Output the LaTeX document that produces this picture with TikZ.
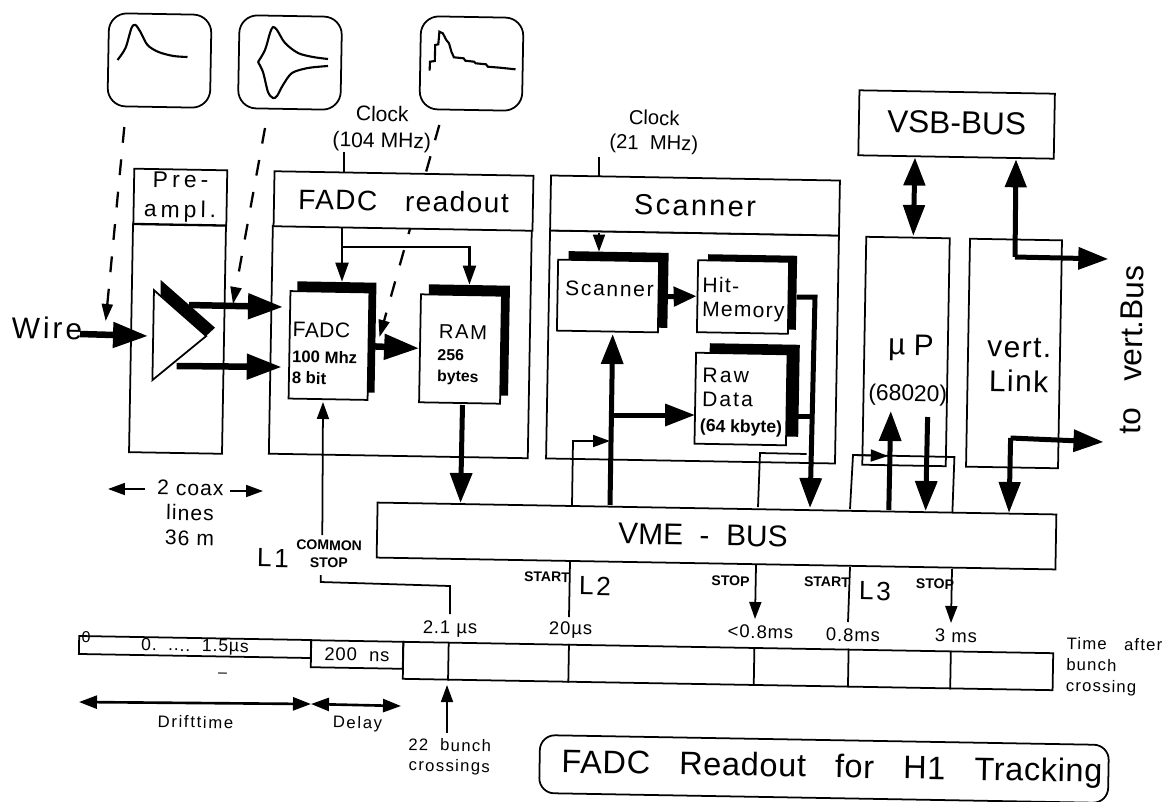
\documentclass[tikz,border=0pt]{standalone}
\usepackage{fontspec}
\setmainfont{Liberation Sans}
\usetikzlibrary{arrows.meta, calc, shapes.geometric}
\newcommand{\fs}[2]{\fontsize{#1}{#2}\selectfont}
\newcommand{\spaced}[1]{\addfontfeature{LetterSpace=#1}}

\begin{document}
\begin{tikzpicture}[
    x=0.02cm, y=-0.02cm,
    every node/.style={rotate=-1, inner sep=0pt, align=center},
    box/.style={draw, line width=1pt},
    head/.style={draw, line width=1pt, fill=white},
    chip/.style={draw, line width=1pt, fill=white},
    shade/.style={fill=black},
    screen/.style={draw, line width=1pt, rounded corners=0.36cm, minimum width=2.05cm, minimum height=1.86cm},
    trace/.style={line width=1.2pt},
    fat/.style={line width=0.13cm, -{Triangle[length=0.7cm,width=0.49cm]}},
    fatter/.style={line width=0.1cm, -{Triangle[length=0.6cm,width=0.43cm]}},
    fats/.style={line width=0.1cm, -{Triangle[length=0.46cm,width=0.38cm]}},
    fatb/.style={line width=0.1cm, {Triangle[length=0.56cm,width=0.42cm]}-{Triangle[length=0.62cm,width=0.42cm]}},
    med/.style={line width=1.2pt, -{Triangle[length=0.38cm,width=0.26cm]}},
    thin line/.style={line width=1pt},
    thin arrow/.style={line width=1pt, -{Triangle[length=0.34cm,width=0.24cm]}},
    dash line/.style={line width=1.3pt, dash pattern=on 9pt off 9.5pt, -{Triangle[length=0.34cm,width=0.22cm]}},
    span/.style={line width=1.5pt, {Triangle[length=0.36cm,width=0.26cm]}-{Triangle[length=0.36cm,width=0.26cm]}},
    small/.style={font=\fs{8}{10}\bfseries},
    time/.style={font=\fs{10.5}{13}\spaced{5}},
    note/.style={font=\fs{9.5}{12}\spaced{10}},
]
  \useasboundingbox (0,0) rectangle (1168,801);

  % signal shapes
  \node[screen] (scopea) at (159.5,60.5) {};
  \node[screen] (scopeb) at (290,62.5) {};
  \node[screen] (scopec) at (471.5,63.5) {};
  \begin{scope}[xshift=-0.03cm]
    \draw[trace] plot[smooth] coordinates {(119,60) (127,48) (133,28) (137,25) (142,32) (149,45) (160,52) (175,56) (189,57)};
  \end{scope}
  \begin{scope}[xshift=-0.04cm]
    \draw[trace] plot[smooth] coordinates {(260,62) (267,50) (272,33) (275,27) (279,30) (287,43) (300,53) (315,57) (330,59)};
    \draw[trace] plot[smooth] coordinates {(260,62) (265,72) (270,92) (275,98) (279,96) (285,85) (294,73) (310,68) (330,66)};
    \draw[trace] (431.6,70.7) -- (432,61.7) -- (436.8,61) -- (437.2,45) -- (440.3,44.3) -- (441.4,31.7) -- (444.8,33.3) -- (448.3,40) -- (451,43.3) -- (453.4,51.7) -- (455.9,57.3) -- (465.6,58.3) -- (467.3,60.7) -- (476,61.7) -- (477.7,63.3) -- (488,64.3) -- (489.8,66.7) -- (502,67.7) -- (517.5,69.3);
  \end{scope}

  % preamp
  \node[box] (prebody) at (177.5,339) [minimum width=1.86cm, minimum height=4.56cm] {};
  \node[head, font=\fs{13}{17}\spaced{18}] (prehead) at (180.3,197) [minimum width=1.86cm, minimum height=1.1cm] {Pre-\\ampl.};
  \fill (160.7,280) -- (215,327.7) -- (205,337) -- (160.7,295) -- cycle;
  \node[draw, fill=white, line width=1pt, isosceles triangle, isosceles triangle stretches, minimum width=1.8cm, minimum height=1.06cm] (amp) at (174,335.5) {};

  % FADC readout
  \node[box] (fadcbody) at (400.3,342) [minimum width=5.18cm, minimum height=4.56cm] {};
  \coordinate (scopecout) at (439.3,125);
  \coordinate (tdctip) at (379.5,337);
  \draw[dash line] (scopecout) -- (tdctip);
  \node[head, font=\fs{16}{19}\spaced{5}] (fadchead) at (403.5,201) [minimum width=5.18cm, minimum height=1.1cm] {FADC~~~readout};
  \node[shade] (fadcshade) at (336,337) [minimum width=1.58cm, minimum height=2.2cm] {};
  \node[chip] (fadc) at (329,345.5) [minimum width=1.58cm, minimum height=2.15cm] {};
  \node[shade] (ramshade) at (468.5,340) [minimum width=1.62cm, minimum height=2.2cm] {};
  \node[chip] (ram) at (460.5,349) [minimum width=1.62cm, minimum height=2.16cm] {};
  \node[anchor=west, align=left, font=\fs{9.5}{12}\bfseries] (fadctext) at (292,353) {{\fs{12}{14}\mdseries\spaced{2}FADC}\\[2.7pt]100 Mhz\\8 bit};
  \node[font=\fs{11.5}{14}\spaced{8}] (ramtext) at (463,332) {RAM};
  \node[anchor=west, align=left, font=\fs{9}{12}\bfseries] (ramsize) at (437,367) {256\\bytes};
  \node[font=\fs{12}{15}] (clocka) at (382,129) {Clock\\(104 MHz)};

  % scanner
  \node[box] (scanbody) at (692.5,347) [minimum width=5.78cm, minimum height=4.56cm] {};
  \node[head, font=\fs{16.5}{19}\spaced{8}] (scanhead) at (695,205.5) [minimum width=5.78cm, minimum height=1.1cm] {Scanner};
  \node[shade] (scanshade) at (618,289.5) [minimum width=2cm, minimum height=1.5cm] {};
  \node[chip] (scan) at (608,296) [minimum width=2.02cm, minimum height=1.42cm] {};
  \node[font=\fs{12}{15}\spaced{8}] (scantext) at (609.5,289) {Scanner};
  \node[shade] (hitshade) at (752,292) [minimum width=1.78cm, minimum height=1.48cm] {};
  \node[chip] (hit) at (743,297) [minimum width=1.82cm, minimum height=1.44cm] {};
  \node[anchor=west, align=left, font=\fs{12}{13.6}\spaced{6}] (hittext) at (702,299) {Hit-\\Memory};
  \node[shade] (rawshade) at (754,390) [minimum width=1.8cm, minimum height=1.84cm] {};
  \node[chip] (raw) at (741,399) [minimum width=1.83cm, minimum height=1.82cm] {};
  \node[anchor=west, align=left, font=\fs{12}{13.6}\spaced{10}] (rawtext) at (702,387) {Raw\\Data};
  \node[font=\fs{10}{12}\bfseries] (rawsize) at (741,428) {(64 kbyte)};
  \node[font=\fs{11.5}{14}] (clockb) at (654,132) {Clock\\(21~~MHz)};

  % processor and link
  \node[box] (cpu) at (906,351.5) [minimum width=1.67cm, minimum height=4.56cm] {};
  \node[font=\fs{17}{20}] (cpuname) at (911,348) {µ P};
  \node[font=\fs{13}{16}] (cputype) at (907.7,395) {(68020)};
  \node[box] (link) at (1014,353.5) [minimum width=1.84cm, minimum height=4.56cm] {};
  \node[font=\fs{17}{19.5}\spaced{5}] (linkname) at (1019,365) {vert.\\Link};
  \node[box, font=\fs{18}{21}] (vsb) at (956.6,124.5) [minimum width=3.91cm, minimum height=1.3cm] {\raisebox{2pt}{VSB-BUS}};
  \node[box, font=\fs{17}{20}] (vme) at (716.5,536) [minimum width=13.58cm, minimum height=1.1cm] {};
  \node[font=\fs{17}{20}] (vmename) at (703,535) {VME~~-~~BUS};
  \node[rotate=90, font=\fs{18}{21}] (tobus) at (1131.4,350) {to~~~vert.Bus};

  % free ends
  \coordinate (wirein) at (80,334);
  \coordinate (outa) at (189,305);
  \coordinate (ina) at (283,307);
  \coordinate (outb) at (176.7,366);
  \coordinate (inb) at (281.7,367);
  \coordinate (scopeaout) at (124.3,127);
  \coordinate (wiretip) at (105.7,321);
  \coordinate (scopebout) at (265,128);
  \coordinate (outtip) at (233,304);
  \coordinate (clka) at (344,152);
  \coordinate (clkb) at (342,228);
  \coordinate (clkm) at (342,247);
  \coordinate (clkc) at (599,157);
  \coordinate (clkd) at (599,233);
  \coordinate (ramout) at (462.5,405);
  \coordinate (ramtip) at (460.5,503);
  \coordinate (busa) at (610,505);
  \coordinate (scanin) at (612.7,334);
  \coordinate (rawfork) at (612.7,415);
  \coordinate (rawin) at (695,415);
  \coordinate (starta) at (572,505);
  \coordinate (startb) at (573,441);
  \coordinate (startc) at (610,441);
  \coordinate (hitout) at (796.7,297);
  \coordinate (hitbend) at (815,297);
  \coordinate (hittip) at (810,508);
  \coordinate (rawout) at (798,416);
  \coordinate (rawjoin) at (812,416);
  \coordinate (loopa) at (758,507);
  \coordinate (loopb) at (760,453);
  \coordinate (loopc) at (806.7,454);
  \coordinate (cpuup) at (888.8,510);
  \coordinate (cpuuptip) at (890.8,411);
  \coordinate (cpudown) at (927.6,417);
  \coordinate (cpudowntip) at (925.6,511);
  \coordinate (boxa) at (850,509);
  \coordinate (boxb) at (853,455);
  \coordinate (boxc) at (954.4,457);
  \coordinate (boxd) at (952.4,512);
  \coordinate (boxtip) at (887.8,456);
  \coordinate (cpuvsb) at (915,157.5);
  \coordinate (cputop) at (913.3,236);
  \coordinate (linkvsb) at (1016,159.3);
  \coordinate (linkbend) at (1015,257);
  \coordinate (linkout) at (1108.3,259);
  \coordinate (linkvme) at (1009,513);
  \coordinate (linkdown) at (1010.6,438);
  \coordinate (linkright) at (1103.5,442);

  % signal path
  \draw[dash line] (scopeaout) -- (wiretip);
  \draw[dash line] (scopebout) -- (outtip);
  \draw[fat] (wirein) -- (148,336);
  \draw[fat] (outa) -- (ina);
  \draw[fat] (outb) -- (inb);
  \draw[fat] (fadc.east) -- (ram.west);
  \draw[thin line] (clka) -- (clka |- fadchead.north);
  \draw[med] (clkb) -- (clkb |- fadcshade.north);
  \draw[med] (clkm) -| (ramshade.north);
  \draw[fatter] (ramout) -- (ramtip);
  \draw[thin line] (clkc) -- (clkc |- scanhead.north);
  \draw[thin arrow] (clkd) -- (clkd |- scanshade.north);
  \draw[fats] (scan.east) -- (hit.west);
  \draw[fatter] (busa) -- (scanin);
  \draw[fatter] (rawfork) -- (rawin);
  \draw[thin arrow] (starta) -- (startb) -- (startc);
  \draw[fatter] (hitout) -- (hitbend) -- (hittip);
  \draw[line width=0.1cm] (rawout) -- (rawjoin);
  \draw[thin line] (loopa) -- (loopb) -- (loopc);
  \draw[fatter] (cpuup) -- (cpuuptip);
  \draw[fatter] (cpudown) -- (cpudowntip);
  \draw[thin line] (boxa) -- (boxb) -- (boxc) -- (boxd);
  \draw[thin arrow] (boxb) -- (boxtip);
  \draw[fatb] (cpuvsb) -- (cputop);
  \draw[line width=0.1cm, {Triangle[length=0.56cm,width=0.42cm]}-] (linkvsb) -- (linkbend);
  \draw[fatter] (linkbend) -- (linkout);
  \draw[line width=0.1cm, {Triangle[length=0.62cm,width=0.42cm]}-] (linkvme) -- (linkdown);
  \draw[fatter] (linkdown) -- (linkright);

  % labels
  \node[font=\fs{17}{20}\spaced{10}] (wire) at (47,328) {Wire};
  \node[font=\fs{12}{14.2}\spaced{5}] (coax) at (190,513) {2 coax\\lines\\36 m};
  \coordinate (coaxla) at (145,489);
  \coordinate (coaxlb) at (108,489);
  \coordinate (coaxra) at (230,491);
  \coordinate (coaxrb) at (263,491);
  \draw[thin arrow] (coaxla) -- (coaxlb);
  \draw[thin arrow] (coaxra) -- (coaxrb);
  \node[font=\fs{15}{18}\spaced{10}] (lone) at (273,558) {L1};
  \node[small] (common) at (329,554) {COMMON\\STOP};
  \node[small] (starttwo) at (547,577) {START};
  \node[font=\fs{15}{18}\spaced{10}] (ltwo) at (595,586) {L2};
  \node[small] (stopone) at (730.5,581) {STOP};
  \node[small] (startthree) at (827,582) {START};
  \node[font=\fs{15}{18}\spaced{10}] (lthree) at (875,591) {L3};
  \node[small] (stoptwo) at (935,584) {STOP};

  % time bar
  \node[box, font=\fs{10}{12}\spaced{5}] (segdrift) at (195,647) [minimum width=4.64cm, minimum height=0.36cm] {0.~~....~~1.5µs};
  \node[box, font=\fs{10.5}{13}\spaced{5}] (segdelay) at (357,654.5) [minimum width=1.84cm, minimum height=0.54cm] {200~~ns};
  \node[box] (segbus) at (728,666) [minimum width=13cm, minimum height=0.74cm] {};
  \foreach \f in {0.0708,0.2554,0.540,0.6846,0.8415}
    \draw[thin line] ($(segbus.north west)!\f!(segbus.north east)$) -- ($(segbus.south west)!\f!(segbus.south east)$);
  \node[font=\fs{9}{11}] (zero) at (86,637) {0};
  \node[time] (ta) at (450,629) {2.1 µs};
  \node[time] (tb) at (570.6,630) {20µs};
  \node[time] (tc) at (760.5,632) {<0.8ms};
  \node[time] (td) at (853,635) {0.8ms};
  \node[time] (te) at (956,636) {3 ms};
  \node[font=\fs{9}{11}] (dash) at (222.5,675) {–};
  \node[anchor=west, align=left, font=\fs{9.5}{12}\spaced{7}] (after) at (1066,666) {Time~~~after\\bunch\\crossing};

  \coordinate (lonestop) at (320.7,575);
  \coordinate (lonebend) at (320.7,582);
  \coordinate (lonecorner) at (450,586);
  \coordinate (lonetime) at (450,614);
  \draw[thin line] (lonetime) -- (lonecorner) -- (lonebend) -- (lonestop);
  \coordinate (lonetop) at (322.3,535);
  \coordinate (fadcup) at (323,402);
  \draw[thin arrow] (lonetop) -- (fadcup);
  \coordinate (twotop) at (570,561);
  \coordinate (twobot) at (569,617);
  \draw[thin line] (twotop) -- (twobot);
  \coordinate (stoptop) at (756,565);
  \coordinate (stopbot) at (755,619);
  \draw[thin arrow] (stoptop) -- (stopbot);
  \coordinate (threetop) at (850,567);
  \coordinate (threebot) at (848,622);
  \draw[thin line] (threetop) -- (threebot);
  \coordinate (endtop) at (952,569);
  \coordinate (endbot) at (951,623);
  \draw[thin arrow] (endtop) -- (endbot);

  \coordinate (drifta) at (79,702);
  \coordinate (driftb) at (311,704);
  \coordinate (delayb) at (401,706);
  \draw[span] (drifta) -- (driftb);
  \draw[span] (driftb) -- (delayb);
  \node[note] (drift) at (195.5,722) {Drifttime};
  \node[note] (delay) at (357.5,724) {Delay};
  \coordinate (crossa) at (447,733);
  \coordinate (crossb) at (447,685);
  \draw[thin arrow] (crossa) -- (crossb);
  \node[note, font=\fs{9.5}{11.6}\spaced{8}] (crossing) at (449.5,757) {22~~bunch\\crossings};

  % title
  \node[draw, line width=1pt, rounded corners=0.3cm, minimum width=11.38cm, minimum height=1.16cm, font=\fs{18.5}{22}\spaced{2}] (title) at (824,769) {\hspace{0.32cm}FADC~~~Readout~~~for~~~H1~~~Tracking};
\end{tikzpicture}
\end{document}
